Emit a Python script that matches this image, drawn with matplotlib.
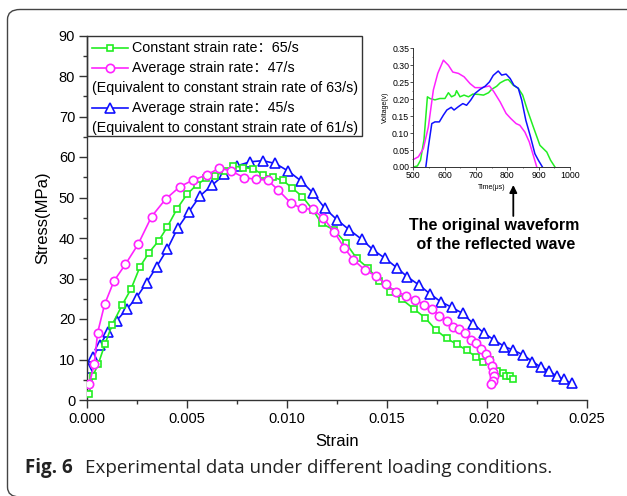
import numpy as np
import matplotlib
matplotlib.use("Agg")
import matplotlib.pyplot as plt
from matplotlib.patches import FancyBboxPatch
from matplotlib.lines import Line2D

# ---- main curves: strain / stress (MPa) ----
strain_65 = [0.0001, 0.0003, 0.00057, 0.0009, 0.00125, 0.00175, 0.0022, 0.00265, 0.0031,
             0.00358, 0.0040, 0.0045, 0.0050, 0.00548, 0.00595, 0.0064, 0.0069, 0.0073,
             0.0078, 0.0083, 0.0088, 0.0093, 0.0098, 0.01027, 0.01077, 0.0113, 0.01173,
             0.01235, 0.01295, 0.01348, 0.01407, 0.0146, 0.01515, 0.01573, 0.01637, 0.0169,
             0.01745, 0.01798, 0.01848, 0.01898, 0.01943, 0.01978, 0.02015, 0.02048,
             0.02082, 0.02095, 0.02115, 0.02128]
stress_65 = [1.5, 6.0, 9.0, 13.8, 18.5, 23.4, 27.4, 32.9, 36.4,
             39.3, 42.6, 47.2, 50.8, 53.1, 54.7, 55.4, 56.5, 57.8,
             57.4, 57.1, 55.6, 55.0, 54.2, 52.3, 50.2, 46.9, 43.6,
             42.0, 38.7, 35.0, 32.5, 29.4, 26.7, 24.9, 22.4, 20.3,
             17.3, 15.2, 13.8, 12.3, 10.7, 9.3, 9.9, 7.2,
             6.7, 5.9, 5.9, 5.1]

strain_47 = [0.00012, 0.00037, 0.00053, 0.00088, 0.00135, 0.00192, 0.00255, 0.00323, 0.00393,
             0.00465, 0.0053, 0.0060, 0.0066, 0.0072, 0.00785, 0.00845, 0.00903, 0.00957,
             0.01018, 0.01073, 0.01128, 0.01182, 0.01235, 0.01287, 0.01332, 0.0139, 0.01445,
             0.01495, 0.01545, 0.01595, 0.0164, 0.01687, 0.01727, 0.01762, 0.01798, 0.01828,
             0.0186, 0.0189, 0.01918, 0.01943, 0.0197, 0.01995, 0.02012, 0.02023, 0.02032,
             0.02035, 0.02028, 0.0202]
stress_47 = [4.0, 9.0, 16.6, 23.6, 29.4, 33.5, 38.4, 45.3, 49.6,
             52.7, 54.3, 55.6, 57.2, 56.6, 54.9, 54.5, 54.3, 51.8,
             48.7, 47.3, 47.1, 44.9, 41.6, 37.5, 34.6, 32.1, 30.6,
             28.6, 26.7, 25.8, 24.7, 23.5, 22.4, 20.8, 19.6, 18.1,
             17.5, 16.5, 14.8, 14.0, 12.6, 11.3, 9.9, 8.4, 7.0,
             5.9, 4.8, 4.0]

strain_45 = [0.00007, 0.0003, 0.00065, 0.00107, 0.00148, 0.00198, 0.00248, 0.00298, 0.00348,
             0.00402, 0.00453, 0.0051, 0.00565, 0.00627, 0.00687, 0.00748, 0.00815, 0.00878,
             0.00942, 0.01007, 0.0107, 0.01128, 0.0119, 0.01252, 0.01312, 0.01373, 0.01432,
             0.0149, 0.01548, 0.01602, 0.0166, 0.01715, 0.01768, 0.01823, 0.01878, 0.01932,
             0.01985, 0.02037, 0.02087, 0.02132, 0.02182, 0.02227, 0.0227, 0.0231, 0.02348,
             0.02385, 0.02423]
stress_45 = [7.8, 10.5, 13.7, 16.9, 19.6, 22.4, 25.3, 29.0, 32.9,
             37.3, 42.4, 46.5, 50.4, 53.1, 55.7, 57.8, 58.8, 59.1,
             58.4, 56.5, 54.1, 51.2, 47.3, 44.4, 42.0, 39.7, 37.0,
             35.0, 32.7, 30.4, 28.4, 26.2, 24.3, 22.9, 21.4, 18.8,
             16.5, 14.8, 13.2, 12.3, 11.1, 9.5, 8.1, 7.2, 5.9,
             5.1, 4.1]

# ---- inset: reflected waveforms, time (us) / voltage (V) ----
t_65 = [500, 513, 523, 534, 545, 553, 569, 585, 601, 612, 622, 633, 638, 649, 662, 676, 690,
        708, 724, 740, 750, 766, 777, 793, 803, 819, 835, 849, 864, 883, 904, 926, 938, 952]
v_65 = [0.0, 0.003, 0.02, 0.08, 0.207, 0.202, 0.198, 0.202, 0.202, 0.219, 0.207, 0.212, 0.225,
        0.207, 0.212, 0.207, 0.215, 0.214, 0.212, 0.219, 0.229, 0.238, 0.248, 0.256, 0.258,
        0.241, 0.232, 0.212, 0.168, 0.118, 0.064, 0.044, 0.020, 0.0]
t_47 = [500, 516, 532, 548, 564, 578, 596, 612, 626, 644, 662, 681, 697, 718, 743, 757, 777,
        796, 811, 828, 840, 856, 870, 883, 894]
v_47 = [0.022, 0.03, 0.054, 0.118, 0.227, 0.276, 0.315, 0.30, 0.28, 0.276, 0.266, 0.246, 0.234,
        0.234, 0.239, 0.222, 0.192, 0.158, 0.143, 0.128, 0.123, 0.103, 0.074, 0.034, 0.0]
t_45 = [540, 548, 559, 569, 583, 596, 607, 621, 630, 644, 658, 670, 683, 697, 713, 729, 743,
        755, 771, 782, 796, 809, 821, 835, 846, 859, 874, 888, 899, 912]
v_45 = [0.0, 0.059, 0.128, 0.133, 0.133, 0.153, 0.168, 0.176, 0.168, 0.178, 0.187, 0.182, 0.197,
        0.217, 0.229, 0.238, 0.251, 0.27, 0.283, 0.271, 0.274, 0.261, 0.241, 0.232, 0.197,
        0.138, 0.089, 0.039, 0.02, 0.0]

legend_rows = ["Constant strain rate\uff1a65/s",
               "Average strain rate\uff1a47/s",
               "(Equivalent to constant strain rate of 63/s)",
               "Average strain rate\uff1a45/s",
               "(Equivalent to constant strain rate of 61/s)"]

GREEN = "#22ee22"
MAGENTA = "#ff22ff"
BLUE = "#1010ff"
AXC = "#333333"
FONT = ["Liberation Sans", "Noto Sans CJK SC", "DejaVu Sans"]
plt.rcParams["font.family"] = FONT

W, H = 627, 496
fig = plt.figure(figsize=(W / 100, H / 100), dpi=100)


def fx(px):
    return px / W


def fy(py):
    return 1 - py / H


ax = fig.add_axes([fx(87), fy(400), fx(587) - fx(87), fy(35.5) - fy(400)])
ax.plot(strain_65, stress_65, "-s", color=GREEN, lw=1.2, ms=5, mfc="white", mew=1.2, zorder=3)
ax.plot(strain_47, stress_47, "-o", color=MAGENTA, lw=1.2, ms=6, mfc="white", mew=1.2, zorder=3)
ax.plot(strain_45, stress_45, "-^", color=BLUE, lw=1.2, ms=6.5, mfc="white", mew=1.2, zorder=2)

ax.set_xlim(0, 0.025)
ax.set_ylim(0, 90)
ax.set_xticks(np.arange(0, 0.0251, 0.005))
ax.set_xticks(np.arange(0.0025, 0.025, 0.005), minor=True)
ax.set_yticks(np.arange(0, 91, 10))
ax.set_yticks(np.arange(5, 90, 10), minor=True)
ax.xaxis.set_major_formatter(plt.FormatStrFormatter("%.3f"))
for s in ["top", "right"]:
    ax.spines[s].set_visible(False)
for s in ["left", "bottom"]:
    ax.spines[s].set_color(AXC)
    ax.spines[s].set_linewidth(1.0)
ax.tick_params(which="major", direction="out", length=5.5, width=1.0, color=AXC,
               labelsize=10.5, pad=3)
ax.tick_params(which="minor", direction="out", length=3, width=1.0, color=AXC)
ax.set_xlabel("Strain", fontsize=12, labelpad=6)
ax.set_ylabel("Stress(MPa)", fontsize=12, labelpad=6)

# legend box drawn by hand so the bracketed lines start under the handles
fig.patches.append(plt.Rectangle((fx(87), fy(136)), fx(362) - fx(87), fy(35.5) - fy(136),
                                 transform=fig.transFigure, fill=False, ec=AXC, lw=1.0))
row_y = [47.7, 67.7, 87.7, 107.7, 127.7]
handles = {0: (GREEN, "s", 5), 1: (MAGENTA, "o", 6), 3: (BLUE, "^", 6.5)}
for i, label in enumerate(legend_rows):
    y = fy(row_y[i])
    if i in handles:
        c, m, ms = handles[i]
        fig.add_artist(Line2D([fx(92), fx(128)], [y, y], color=c, lw=1.2,
                              transform=fig.transFigure))
        fig.add_artist(Line2D([fx(110)], [y], color=c, marker=m, ms=ms, mfc="white", mew=1.2,
                              transform=fig.transFigure))
        fig.text(fx(132), y, label, fontsize=10.25, va="center", ha="left")
    else:
        fig.text(fx(92), y, label, fontsize=10.25, va="center", ha="left")

# inset
ins = fig.add_axes([fx(413.3), fy(167), fx(570) - fx(413.3), fy(48.3) - fy(167)])
ins.plot(t_65, v_65, color=GREEN, lw=1.1)
ins.plot(t_47, v_47, color=MAGENTA, lw=1.1)
ins.plot(t_45, v_45, color=BLUE, lw=1.1)
ins.set_xlim(500, 1000)
ins.set_ylim(0, 0.35)
ins.set_xticks(np.arange(500, 1001, 100))
ins.set_xticks(np.arange(550, 1000, 100), minor=True)
ins.set_yticks(np.arange(0, 0.351, 0.05))
ins.set_yticks(np.arange(0.025, 0.35, 0.05), minor=True)
ins.yaxis.set_major_formatter(plt.FormatStrFormatter("%.2f"))
ins.patch.set_alpha(0)
for s in ["top", "right"]:
    ins.spines[s].set_visible(False)
for s in ["left", "bottom"]:
    ins.spines[s].set_color(AXC)
    ins.spines[s].set_linewidth(0.7)
ins.tick_params(which="major", direction="out", length=2, width=0.6, color=AXC,
                labelsize=6.3, pad=1)
ins.tick_params(which="minor", direction="out", length=1, width=0.5, color=AXC)
ins.set_xlabel("Time(\u03bcs)", fontsize=5, labelpad=3)
ins.set_ylabel("Voltage(v)", fontsize=5, labelpad=2)

# arrow and note
fig.add_artist(plt.Annotation("", xy=(fx(513.3), fy(185)), xytext=(fx(513.3), fy(216)),
                              xycoords="figure fraction", textcoords="figure fraction",
                              arrowprops=dict(arrowstyle="-|>", color="black", lw=1.3,
                                              mutation_scale=11, shrinkA=0, shrinkB=0)))
fig.text(fx(494), fy(235), "The original waveform\n of the reflected wave", fontsize=11.5,
         fontweight="bold", ha="center", va="center", linespacing=1.3)

# caption
fig.text(fx(25), fy(468), "Fig. 6", fontsize=13.5, fontweight="bold", family="Open Sans",
         ha="left", va="center", color="#222222")
fig.text(fx(85), fy(468), "Experimental data under different loading conditions.",
         fontsize=13.5, family="Open Sans", ha="left", va="center", color="#222222")

# rounded frame around the panel
fig.patches.append(FancyBboxPatch((fx(7.5), fy(497)), fx(640) - fx(7.5), fy(9.5) - fy(497),
                                  boxstyle="round,pad=0,rounding_size=0.02",
                                  transform=fig.transFigure, fill=False, ec="#444444", lw=1.0))

fig.savefig("out.png", dpi=100)
